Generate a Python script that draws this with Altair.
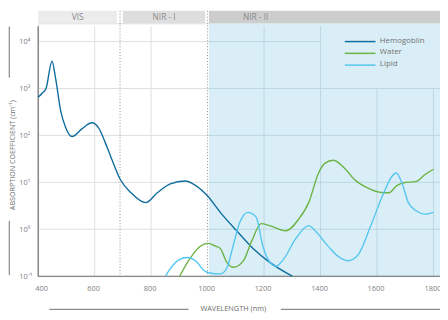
import altair as alt
import pandas as pd

# ---------------- data ----------------
hemo_nm = [400, 415, 428, 449, 462, 480, 497, 520, 555, 590, 613, 637, 660, 691, 729, 781, 822, 868, 920, 961, 1000, 1045, 1103, 1161, 1219, 1300]
hemo_val = [650, 800, 1000, 3800, 1620, 330, 150, 95, 138, 186, 148, 72, 32, 11.5, 6.0, 3.7, 6.0, 9.3, 10.7, 8.3, 5.1, 2.3, 0.93, 0.39, 0.20, 0.1]

water_nm = [901, 938, 973, 1002, 1031, 1045, 1068, 1091, 1126, 1155, 1190, 1219, 1277, 1323, 1358, 1393, 1416, 1445, 1485, 1520, 1566, 1624, 1642, 1670, 1694, 1740, 1769, 1800]
water_val = [0.1, 0.24, 0.43, 0.50, 0.43, 0.39, 0.20, 0.155, 0.21, 0.54, 1.32, 1.20, 0.93, 1.66, 3.7, 15.8, 25.7, 29.5, 20, 11.5, 7.6, 6.0, 6.0, 8.5, 9.8, 10.5, 14.5, 19]

lipid_nm = [851, 869, 898, 927, 961, 984, 1007, 1045, 1068, 1091, 1114, 1143, 1172, 1195, 1219, 1242, 1271, 1312, 1358, 1381, 1428, 1463, 1497, 1532, 1578, 1624, 1653, 1668, 1688, 1711, 1740, 1769, 1800]
lipid_val = [0.1, 0.148, 0.224, 0.25, 0.204, 0.138, 0.117, 0.112, 0.148, 0.457, 1.41, 2.3, 1.82, 0.457, 0.204, 0.162, 0.24, 0.63, 1.2, 0.93, 0.427, 0.263, 0.214, 0.28, 1.2, 6.0, 13.5, 15.8, 9.8, 3.7, 2.45, 2.1, 2.3]

series_names = ["Hemogoblin", "Water", "Lipid"]
series_colors = ["#0f6d9f", "#6bb345", "#54c6f0"]

band_labels = ["VIS", "NIR - I", "NIR - II"]
band_start = [400, 700, 1005]
band_end = [679, 992, 1823]
band_label_pos = [540, 846, 1170]
band_colors = ["#ececec", "#dedede", "#cdcdcd"]
band_dividers = [690, 1000]

x_ticks = [400, 600, 800, 1000, 1200, 1400, 1600, 1800]
y_ticks = [0.1, 1, 10, 100, 1000, 10000]
y_tick_labels = ["10⁻¹", "10⁰", "10¹", "10²", "10³", "10⁴"]

x_title = "WAVELENGTH (nm)"
y_title = "ABSORPTION COEFFICIENT (cm⁻¹)"

# ---------------- layout ----------------
W, H = 409.3, 257.6
X_MIN, X_MAX = 400, 1823
Y_MIN, Y_MAX = 0.1, 24500
FONT = "Open Sans"
LABEL_COLOR = "#808080"

xs = alt.Scale(domain=[X_MIN, X_MAX], nice=False, zero=False)
ys = alt.Scale(type="log", domain=[Y_MIN, Y_MAX], nice=False)

label_expr = "[" + ",".join("'" + s + "'" for s in y_tick_labels) + "][round(log(datum.value)/LN10)+1]"
x_axis = alt.Axis(values=x_ticks, title=None, domain=False, ticks=False, tickSize=0, grid=False, format="d",
                  labelFlush=False, labelFont=FONT, labelFontSize=7.5, labelColor=LABEL_COLOR, labelPadding=9,
                  labelOffset={"condition": [{"test": "datum.value == %d" % x_ticks[0], "value": 3},
                                             {"test": "datum.value == %d" % x_ticks[-1], "value": -1}],
                               "value": -1.5})
y_axis = alt.Axis(values=y_ticks, title=None, domain=False, ticks=False, tickSize=0, grid=False,
                  labelExpr=label_expr, labelAlign="left", labelPadding=19.7, labelFlush=False,
                  labelFont=FONT, labelFontSize=7.5, labelColor=LABEL_COLOR)


def X(field):
    return alt.X(field, scale=xs, axis=x_axis)


def Y(field):
    return alt.Y(field, scale=ys, axis=y_axis)


rows = []
for name, nms, vals in [("Hemogoblin", hemo_nm, hemo_val), ("Water", water_nm, water_val), ("Lipid", lipid_nm, lipid_val)]:
    for a, b in zip(nms, vals):
        rows.append({"series": name, "nm": a, "val": b})
curves = pd.DataFrame(rows)

# blue NIR-II background
blue_bg = alt.Chart(pd.DataFrame({"a": [band_start[2]], "b": [X_MAX]})).mark_rect(color="#d9eef6").encode(
    x=X("a:Q"), x2="b:Q", y=alt.value(0), y2=alt.value(H))

bands = pd.DataFrame({"label": band_labels, "a": band_start, "b": band_end, "pos": band_label_pos, "col": band_colors})
header = alt.Chart(bands).mark_rect().encode(
    x=X("a:Q"), x2="b:Q", y=alt.value(-12.7), y2=alt.value(0),
    color=alt.Color("col:N", scale=None))
header_text = alt.Chart(bands).mark_text(font=FONT, fontSize=8.5, color="#8a8a8a").encode(
    x=X("pos:Q"), y=alt.value(-6), text="label:N")

# grid segments
wgrid = "#dedede"
bgrid = "#bcd7e1"
vg_white = alt.Chart(pd.DataFrame({"x": [600, 800]})).mark_rule(color=wgrid, strokeWidth=1).encode(
    x=X("x:Q"), y=alt.value(3), y2=alt.value(H))
vg_blue = alt.Chart(pd.DataFrame({"x": [1200, 1400]})).mark_rule(color=bgrid, strokeWidth=1).encode(
    x=X("x:Q"), y=alt.value(3), y2=alt.value(H))
vg_blue2 = alt.Chart(pd.DataFrame({"x": [1600, 1800], "y": [1000, 1000]})).mark_rule(color=bgrid, strokeWidth=1).encode(
    x=X("x:Q"), y=Y("y:Q"), y2=alt.value(H))
hg_white = alt.Chart(pd.DataFrame({"y": y_ticks[1:], "a": [X_MIN] * 5, "b": [1000] * 5})).mark_rule(color=wgrid, strokeWidth=1).encode(
    y=Y("y:Q"), x=X("a:Q"), x2="b:Q")
hg_blue = alt.Chart(pd.DataFrame({"y": y_ticks[1:], "a": [1000] * 5, "b": [X_MAX] * 4 + [1400]})).mark_rule(color=bgrid, strokeWidth=1).encode(
    y=Y("y:Q"), x=X("a:Q"), x2="b:Q")

dividers = alt.Chart(pd.DataFrame({"x": band_dividers})).mark_rule(color="#8c8c8c", strokeWidth=1, strokeDash=[1, 2]).encode(
    x=X("x:Q"), y=alt.value(-12.7), y2=alt.value(H))

axis_left = alt.Chart(pd.DataFrame({"x": [X_MIN]})).mark_rule(color="#6e6e6e", strokeWidth=1.2).encode(
    x=X("x:Q"), y=alt.value(3), y2=alt.value(H))
axis_bottom = alt.Chart(pd.DataFrame({"y": [Y_MIN], "a": [X_MIN], "b": [X_MAX]})).mark_rule(color="#6e6e6e", strokeWidth=1.2).encode(
    y=Y("y:Q"), x=X("a:Q"), x2="b:Q")

lines = alt.Chart(curves).mark_line(interpolate="monotone", strokeWidth=1.4).encode(
    x=X("nm:Q"), y=Y("val:Q"),
    color=alt.Color("series:N", scale=alt.Scale(domain=series_names, range=series_colors), legend=None),
    detail="series:N")

# legend
legend_layers = []
for i, (name, col) in enumerate(zip(series_names, series_colors)):
    d = pd.DataFrame({"t": [name]})
    ly = 18.6 + i * 12
    legend_layers.append(alt.Chart(d).mark_rule(color=col, strokeWidth=1.5).encode(
        x=alt.value(312.3), x2=alt.value(343.6), y=alt.value(ly)))
    legend_layers.append(alt.Chart(d).mark_text(font=FONT, fontSize=8, color="#737373", align="left", baseline="middle").encode(
        x=alt.value(348), y=alt.value(ly - 1), text="t:N"))

# axis titles with decorative lines
tx = alt.Chart(pd.DataFrame({"t": [x_title]})).mark_text(font=FONT, fontSize=7.5, color="#6e6e6e", baseline="middle").encode(
    x=alt.value(198.8), y=alt.value(291.3), text="t:N")
tx_l = alt.Chart(pd.DataFrame({"t": [x_title]})).mark_rule(color="#6e6e6e", strokeWidth=1).encode(
    x=alt.value(11.3), x2=alt.value(153.3), y=alt.value(291.3))
tx_r = alt.Chart(pd.DataFrame({"t": [x_title]})).mark_rule(color="#6e6e6e", strokeWidth=1).encode(
    x=alt.value(247.3), x2=alt.value(W), y=alt.value(291.3))
ty = alt.Chart(pd.DataFrame({"t": [y_title]})).mark_text(font=FONT, fontSize=7.3, color="#6e6e6e", baseline="middle", angle=270).encode(
    x=alt.value(-25.3), y=alt.value(134.3), text="t:N")
ty_t = alt.Chart(pd.DataFrame({"t": [y_title]})).mark_rule(color="#6e6e6e", strokeWidth=1).encode(
    x=alt.value(-29.4), y=alt.value(3.3), y2=alt.value(55.3))
ty_b = alt.Chart(pd.DataFrame({"t": [y_title]})).mark_rule(color="#6e6e6e", strokeWidth=1).encode(
    x=alt.value(-29.4), y=alt.value(201.3), y2=alt.value(256.3))

chart = alt.layer(
    blue_bg, header, header_text,
    vg_white, vg_blue, vg_blue2, hg_white, hg_blue,
    dividers, axis_left, axis_bottom,
    lines, *legend_layers,
    tx, tx_l, tx_r, ty, ty_t, ty_b
).properties(
    width=W, height=H,
    autosize="none",
    padding={"left": 30.7, "top": 12.7, "right": 0, "bottom": 41.7},
).configure_view(stroke=None).configure(background="white")

chart.save("out.html", embed_options={"renderer": "svg", "actions": False})
